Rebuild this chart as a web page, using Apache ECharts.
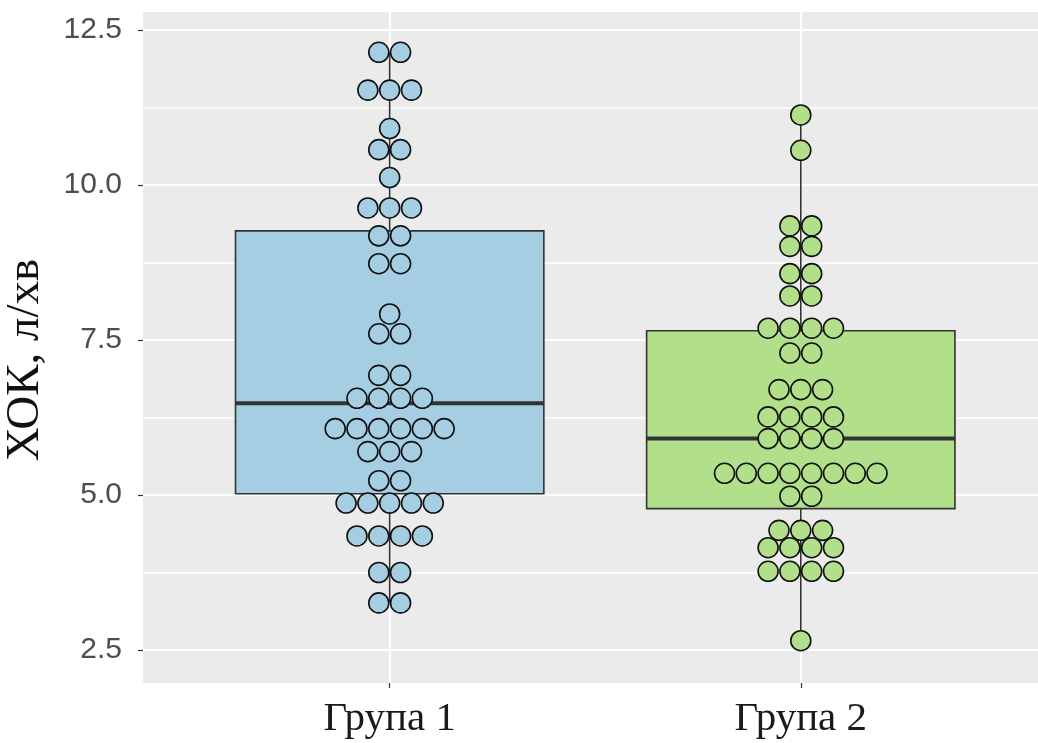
<!DOCTYPE html>
<html>
<head>
<meta charset="utf-8">
<title>ХОК, л/хв</title>
<script src="https://cdn.jsdelivr.net/npm/echarts@6.0.0/dist/echarts.min.js"></script>
<style>
  html, body { margin: 0; padding: 0; background: #ffffff; }
  #chart { width: 1038px; height: 743px; }
</style>
</head>
<body>
<div id="chart"></div>
<script>
// Groups shown on the horizontal axis
const groups = ['Група 1', 'Група 2'];

// Individual observations (one dot each; equal values are stacked side by side)
const group1Values = [
  12.14, 12.14,
  11.53, 11.53, 11.53,
  10.91,
  10.57, 10.57,
  10.12,
  9.63, 9.63, 9.63,
  9.18, 9.18,
  8.73, 8.73,
  7.92,
  7.60, 7.60,
  6.93, 6.93,
  6.56, 6.56, 6.56, 6.56,
  6.07, 6.07, 6.07, 6.07, 6.07, 6.07,
  5.70, 5.70, 5.70,
  5.23, 5.23,
  4.87, 4.87, 4.87, 4.87, 4.87,
  4.34, 4.34, 4.34, 4.34,
  3.75, 3.75,
  3.26, 3.26
];
const group2Values = [
  11.13,
  10.56,
  9.34, 9.34,
  9.01, 9.01,
  8.57, 8.57,
  8.21, 8.21,
  7.69, 7.69, 7.69, 7.69,
  7.29, 7.29,
  6.70, 6.70, 6.70,
  6.26, 6.26, 6.26, 6.26,
  5.91, 5.91, 5.91, 5.91,
  5.35, 5.35, 5.35, 5.35, 5.35, 5.35, 5.35, 5.35,
  4.98, 4.98,
  4.43, 4.43, 4.43,
  4.15, 4.15, 4.15, 4.15,
  3.77, 3.77, 3.77, 3.77,
  2.65
];

// Box-and-whisker statistics per group: lower whisker, Q1, median, Q3, upper whisker
const whiskerLow  = [3.26, 2.65];
const quartile1   = [5.02, 4.78];
const medians     = [6.48, 5.91];
const quartile3   = [9.26, 7.65];
const whiskerHigh = [12.14, 11.13];

// Y-axis tick labels and the minor grid positions between them
const yTicks = [2.5, 5.0, 7.5, 10.0, 12.5];
const yMinorTicks = [3.75, 6.25, 8.75, 11.25];

// ---- styling / layout constants ----
const fillColors = ['#A6CEE3', '#B2DF8A'];
const BOX_WIDTH = 0.75;      // in group units
const DOT_STEP = 0.053;      // horizontal spacing between stacked dots, in group units
const DOT_SIZE = 20;

function stackDots(values, center) {
  const counts = new Map();
  values.forEach(v => counts.set(v, (counts.get(v) || 0) + 1));
  const pts = [];
  counts.forEach((n, v) => {
    for (let i = 0; i < n; i++) {
      pts.push([center + (i - (n - 1) / 2) * DOT_STEP, v]);
    }
  });
  return pts;
}

const boxData = groups.map((g, i) => [
  i + 1, whiskerLow[i], quartile1[i], medians[i], quartile3[i], whiskerHigh[i]
]);

function renderBox(params, api) {
  const x = api.value(0);
  const pLow = api.coord([x, api.value(1)]);
  const pQ1 = api.coord([x, api.value(2)]);
  const pMed = api.coord([x, api.value(3)]);
  const pQ3 = api.coord([x, api.value(4)]);
  const pHigh = api.coord([x, api.value(5)]);
  const half = api.size([BOX_WIDTH / 2, 0])[0];
  const line = { stroke: '#333333', lineWidth: 1.6 };
  return {
    type: 'group',
    children: [
      { type: 'line', shape: { x1: pHigh[0], y1: pHigh[1], x2: pQ3[0], y2: pQ3[1] }, style: line },
      { type: 'line', shape: { x1: pQ1[0], y1: pQ1[1], x2: pLow[0], y2: pLow[1] }, style: line },
      {
        type: 'rect',
        shape: { x: pQ3[0] - half, y: pQ3[1], width: half * 2, height: pQ1[1] - pQ3[1] },
        style: { fill: fillColors[params.dataIndex], stroke: '#333333', lineWidth: 1.6 }
      },
      {
        type: 'line',
        shape: { x1: pMed[0] - half, y1: pMed[1], x2: pMed[0] + half, y2: pMed[1] },
        style: { stroke: '#333333', lineWidth: 4 }
      }
    ]
  };
}

const chart = echarts.init(document.getElementById('chart'), null, { renderer: 'canvas' });

const axisTickStyle = { show: true, length: 5, lineStyle: { color: '#333333', width: 1.2 } };

chart.setOption({
  animation: false,
  backgroundColor: '#ffffff',
  grid: {
    left: 143, right: 0, top: 12, bottom: 60,
    outerBoundsMode: 'none',
    containLabel: false,
    show: true, backgroundColor: '#EBEBEB', borderWidth: 0
  },
  xAxis: {
    type: 'value',
    min: 0.4,
    max: 2.577,
    axisLine: { show: false },
    axisTick: Object.assign({ customValues: [1, 2] }, axisTickStyle),
    axisLabel: {
      customValues: [1, 2],
      formatter: v => groups[Math.round(v) - 1] || '',
      color: '#1a1a1a',
      fontFamily: 'Liberation Serif',
      fontSize: 41,
      margin: 16
    },
    splitLine: { show: true, lineStyle: { color: '#ffffff', width: 2.2 } }
  },
  yAxis: [
    {
      type: 'value',
      min: 1.968,
      max: 12.79,
      name: 'ХОК, л/хв',
      nameLocation: 'middle',
      nameRotate: 90,
      nameGap: 94,
      nameTextStyle: {
        fontFamily: 'Liberation Serif',
        fontSize: 47,
        color: '#111111',
        padding: [0, 25, 0, 0]
      },
      axisLine: { show: false },
      axisTick: Object.assign({ customValues: yTicks }, axisTickStyle),
      axisLabel: {
        customValues: yTicks,
        formatter: v => v.toFixed(1),
        color: '#4D4D4D',
        fontFamily: 'Liberation Sans',
        fontSize: 30,
        margin: 21
      },
      splitLine: { show: true, lineStyle: { color: '#ffffff', width: 2.2 } }
    },
    {
      type: 'value',
      position: 'left',
      min: 1.968,
      max: 12.79,
      axisLine: { show: false },
      axisTick: { show: false, customValues: yMinorTicks },
      axisLabel: { show: false },
      splitLine: { show: true, lineStyle: { color: '#ffffff', width: 1.5 } }
    }
  ],
  series: [
    {
      type: 'custom',
      name: 'box',
      renderItem: renderBox,
      encode: { x: 0, y: [1, 2, 3, 4, 5] },
      data: boxData,
      z: 2,
      silent: true
    },
    {
      type: 'scatter',
      name: groups[0],
      data: stackDots(group1Values, 1),
      symbol: 'circle',
      symbolSize: DOT_SIZE,
      itemStyle: { color: fillColors[0], borderColor: '#111111', borderWidth: 1.6, opacity: 1 },
      z: 3,
      silent: true
    },
    {
      type: 'scatter',
      name: groups[1],
      data: stackDots(group2Values, 2),
      symbol: 'circle',
      symbolSize: DOT_SIZE,
      itemStyle: { color: fillColors[1], borderColor: '#111111', borderWidth: 1.6, opacity: 1 },
      z: 3,
      silent: true
    }
  ]
});
</script>
</body>
</html>
